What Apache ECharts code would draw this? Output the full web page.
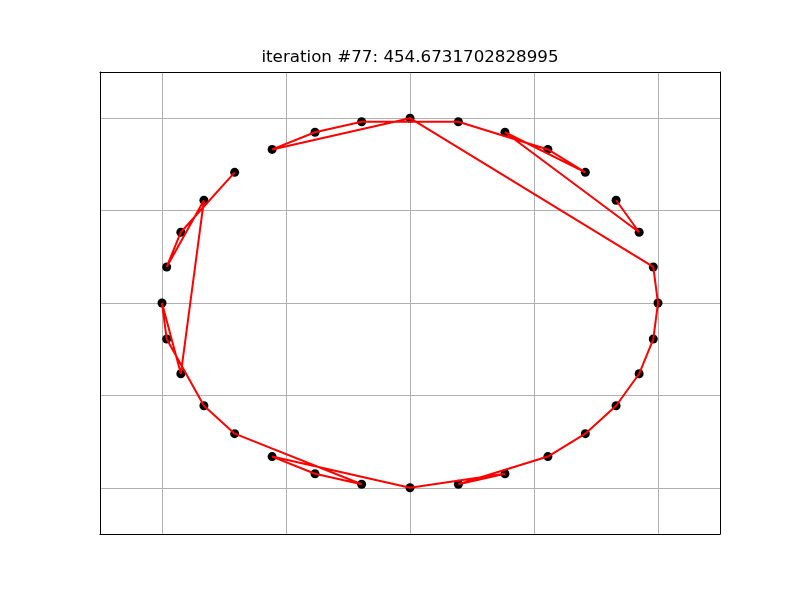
<!DOCTYPE html>
<html>
<head>
<meta charset="utf-8">
<script src="https://cdn.jsdelivr.net/npm/echarts@6/dist/echarts.min.js"></script>
<style>html,body{margin:0;padding:0;background:#fff}#c{width:800px;height:600px}</style>
</head>
<body>
<div id="c"></div>
<script>
// City coordinates (index order)
const cityX = [1, 0.981, 0.924, 0.831, 0.707, 0.556, 0.383, 0.195, 0, -0.195, -0.383, -0.556, -0.707, -0.831, -0.924, -0.981,
               -1, -0.981, -0.924, -0.831, -0.707, -0.556, -0.383, -0.195, 0, 0.195, 0.383, 0.556, 0.707, 0.831, 0.924, 0.981];
const cityY = [0, 0.195, 0.383, 0.556, 0.707, 0.831, 0.924, 0.981, 1, 0.981, 0.924, 0.831, 0.707, 0.556, 0.383, 0.195,
               0, -0.195, -0.383, -0.556, -0.707, -0.831, -0.924, -0.981, -1, -0.981, -0.924, -0.831, -0.707, -0.556, -0.383, -0.195];
// Visiting order of the current path
const tourOrder = [12, 14, 15, 13, 18, 16, 17, 19, 20, 23, 22, 21, 24, 26, 25, 27, 28, 29, 30, 31, 0, 1, 8, 11, 10, 9, 7, 5, 4, 6, 2, 3];
// Grid tick positions
const xTicks = [-1, -0.5, 0, 0.5, 1];
const yTicks = [-1, -0.5, 0, 0.5, 1];
const titleText = 'iteration #77: 454.6731702828995';

const cityPoints = cityX.map((x, i) => [x, cityY[i]]);
const pathPoints = tourOrder.map(i => [cityX[i], cityY[i]]);

const chart = echarts.init(document.getElementById('c'), null, {renderer: 'canvas'});
function mainAxis(ticks, pos) {
  return {
    type: 'value', min: -1.25, max: 1.25, position: pos,
    axisLine: {show: true, onZero: false, lineStyle: {color: '#000', width: 1}},
    axisLabel: {show: false},
    axisTick: {show: false, customValues: ticks},
    splitLine: {show: true, lineStyle: {color: '#b0b0b0', width: 1}}
  };
}
function frameAxis(pos) {
  return {
    type: 'value', min: -1.25, max: 1.25, position: pos,
    axisLine: {show: true, onZero: false, lineStyle: {color: '#000', width: 1}},
    axisLabel: {show: false}, axisTick: {show: false}, splitLine: {show: false}
  };
}
chart.setOption({
  animation: false,
  title: {
    text: titleText, left: 410, top: 49, textAlign: 'center', padding: 0,
    textStyle: {fontFamily: 'DejaVu Sans', fontSize: 16.7, fontWeight: 'normal', color: '#000'}
  },
  grid: {left: 100, top: 72, width: 620, height: 462, show: false},
  xAxis: [mainAxis(xTicks, 'bottom'), frameAxis('top')],
  yAxis: [mainAxis(yTicks, 'left'), frameAxis('right')],
  series: [
    {type: 'scatter', data: cityPoints, symbolSize: 9, itemStyle: {color: '#000', opacity: 1}, z: 2},
    {type: 'line', data: pathPoints, showSymbol: false, symbol: 'none', lineStyle: {color: '#ff0000', width: 2}, z: 3}
  ]
});
</script>
</body>
</html>
